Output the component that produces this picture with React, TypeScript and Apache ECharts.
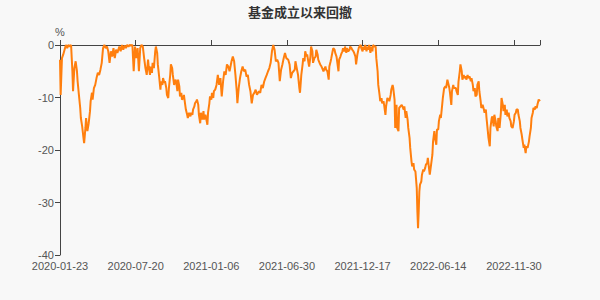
import React, { useEffect, useRef } from "react";
import * as echarts from "echarts";

const title = "基金成立以来回撤";
const tickDates = ["2020-01-23", "2020-07-20", "2021-01-06", "2021-06-30", "2021-12-17", "2022-06-14", "2022-11-30"];
const daysPerLabel = 116;
const lastDay = 736;

// trading-day index since inception
const dayIndex = [
  0, 1, 3, 5, 7, 9, 11, 13, 15, 17, 18, 19, 20, 22, 24, 26, 27, 29, 31, 32, 34, 36, 37, 39, 40, 42, 44, 46, 47, 49,
  50, 52, 54, 56, 58, 60, 62, 64, 66, 68, 70, 72, 74, 76, 78, 80, 82, 84, 86, 88, 91, 93, 95, 97, 99, 101, 103, 105, 107, 109,
  111, 113, 115, 117, 119, 121, 123, 125, 127, 129, 131, 133, 135, 136, 138, 139, 141, 142, 144, 146, 147, 149, 150, 152, 154, 155, 157, 158, 160, 161,
  163, 164, 166, 167, 169, 170, 172, 173, 175, 177, 178, 180, 181, 183, 184, 186, 187, 189, 190, 192, 193, 195, 196, 198, 200, 201, 203, 204, 206, 207,
  209, 210, 212, 213, 215, 216, 218, 220, 221, 223, 224, 226, 227, 229, 230, 232, 233, 235, 236, 238, 240, 242, 244, 246, 248, 250, 252, 254, 256, 258,
  260, 263, 265, 267, 269, 271, 272, 274, 276, 278, 280, 282, 284, 286, 288, 290, 292, 294, 296, 298, 300, 302, 305, 307, 309, 311, 313, 315, 317, 319,
  321, 323, 325, 327, 329, 331, 333, 335, 337, 339, 341, 343, 345, 347, 350, 352, 354, 356, 358, 360, 361, 363, 365, 367, 368, 370, 372, 373, 375, 376,
  378, 379, 381, 382, 384, 385, 387, 388, 390, 392, 393, 395, 396, 398, 399, 401, 402, 404, 405, 407, 408, 410, 412, 413, 415, 416, 418, 419, 421, 422,
  424, 425, 427, 428, 430, 431, 433, 434, 436, 437, 439, 440, 442, 444, 445, 447, 448, 450, 451, 453, 454, 456, 458, 459, 461, 462, 464, 465, 467, 468,
  470, 471, 473, 474, 476, 477, 479, 480, 482, 484, 485, 487, 488, 490, 491, 493, 494, 496, 497, 499, 500, 502, 504, 505, 507, 508, 510, 511, 513, 514,
  516, 517, 519, 520, 522, 524, 525, 527, 528, 530, 531, 533, 534, 536, 537, 539, 540, 542, 543, 545, 547, 548, 549, 550, 551, 552, 554, 555, 557, 558,
  560, 561, 563, 564, 566, 567, 569, 571, 572, 574, 575, 577, 578, 580, 581, 583, 584, 586, 587, 589, 591, 592, 594, 595, 597, 598, 600, 601, 603, 604,
  607, 608, 610, 611, 613, 614, 616, 617, 619, 620, 622, 623, 625, 626, 628, 630, 631, 633, 634, 636, 637, 639, 640, 642, 643, 645, 646, 648, 650, 651,
  653, 654, 656, 657, 659, 660, 662, 663, 665, 666, 668, 669, 671, 672, 674, 676, 677, 679, 680, 682, 683, 685, 686, 688, 689, 691, 692, 694, 696, 697,
  699, 700, 702, 703, 705, 706, 708, 709, 711, 712, 714, 715, 717, 719, 720, 722, 723, 725, 726, 728, 729, 731, 732, 734, 736,
];

// drawdown since inception, %
const drawdown = [
  -2.8, -9.5, -2.5, -1.8, -0.9, 0, -0.6, 0, -0.3, 0, -2.5, -5.0, -8.8, -4.4, -3.1, -5.0, -6.9, -9.5, -12.0, -13.9, -15.5, -17.7, -18.7, -15.8, -13.9, -16.4, -14.9, -12.6, -10.7, -9.1,
  -10.4, -8.2, -7.6, -6.3, -5.3, -5.7, -4.7, -3.4, -0.6, 0, -0.6, -0.3, -1.2, -3.4, -1.2, -2.2, -0.6, -2.5, -0.9, -1.5, -0.3, -1.2, 0, -0.9, -0.1, -0.6, 0, -0.3, 0, -0.1,
  0, -5.0, -0.3, -2.5, -0.6, -5.0, -0.6, 0, -0.3, -2.5, -4.4, -5.7, -2.8, -4.1, -5.7, -4.1, -5.3, -3.4, -4.4, -1.2, -0.3, -1.5, -3.7, -6.0, -8.5, -6.9, -7.6, -6.3, -7.2, -6.9,
  -8.2, -9.5, -10.1, -8.2, -5.7, -3.7, -4.4, -5.7, -7.6, -6.6, -6.9, -8.8, -6.6, -7.9, -9.8, -9.1, -10.4, -10.1, -9.5, -11.4, -12.3, -13.3, -13.9, -12.9, -13.6, -12.9, -13.3, -12.3, -11.7, -11.1,
  -10.7, -10.4, -11.4, -13.3, -14.9, -12.9, -14.2, -12.6, -14.2, -13.3, -13.9, -15.2, -12.9, -11.1, -9.8, -10.4, -9.1, -10.1, -8.8, -8.5, -7.6, -5.7, -7.6, -6.3, -9.8, -7.0, -5.0, -5.7, -3.7, -4.1,
  -5.0, -3.1, -2.2, -3.1, -5.7, -8.8, -11.1, -8.2, -6.3, -5.0, -4.1, -5.0, -4.7, -6.0, -5.7, -7.6, -8.8, -11.1, -9.5, -9.1, -8.5, -9.5, -8.8, -9.1, -7.6, -8.2, -7.0, -6.3, -5.7, -5.0,
  -4.4, -3.4, -1.2, 0, -0.9, -3.1, -2.8, -3.4, -6.9, -4.7, -3.7, -2.5, -1.5, -2.5, -2.8, -3.7, -6.3, -5.3, -5.0, -4.7, -3.1, -4.4, -5.7, -8.2, -9.1, -5.7, -3.7, -2.5, -3.1, -1.2,
  -2.2, -1.8, -3.4, -4.1, -2.2, -0.3, -1.2, -3.4, -2.5, -2.2, -0.9, -1.8, -2.8, -3.4, -3.7, -4.1, -4.4, -5.0, -4.7, -4.1, -4.7, -5.0, -6.6, -4.1, -3.1, -2.5, -1.2, -0.6, -0.9, -1.5,
  -2.2, -3.1, -5.0, -2.8, -2.2, -1.8, -1.2, -0.6, -1.2, -0.3, -1.5, -0.6, -1.2, -0.9, -0.3, -0.6, -0.9, -1.2, -1.5, -2.2, -3.7, -1.8, -0.6, -0.3, 0, -0.6, -1.2, -0.3, -0.9, 0,
  -1.2, -0.3, -0.9, 0, -1.5, -0.3, -1.2, 0, -0.3, -0.3, -2.5, -5.0, -7.6, -9.5, -10.7, -10.1, -11.1, -10.7, -11.4, -13.3, -11.7, -10.1, -10.4, -10.7, -9.5, -8.5, -7.6, -8.2, -10.4, -15.8,
  -11.4, -15.8, -16.4, -12.0, -11.7, -11.4, -11.7, -12.3, -11.7, -13.9, -12.6, -14.2, -15.8, -17.7, -19.6, -22.2, -23.1, -22.5, -23.7, -24.1, -27.2, -31.7, -34.9, -31.7, -27.9, -26.6, -26.0, -24.7, -23.7, -24.1,
  -23.4, -22.8, -22.5, -21.5, -23.7, -24.7, -22.8, -20.9, -18.4, -16.4, -17.7, -19.0, -16.1, -16.1, -14.5, -13.3, -13.9, -11.4, -10.1, -8.2, -7.9, -8.2, -6.6, -6.6, -8.2, -9.1, -11.4, -8.8, -7.6, -8.2,
  -8.2, -8.8, -9.5, -7.0, -5.0, -3.7, -5.0, -6.6, -5.7, -6.3, -6.0, -6.6, -5.7, -6.3, -6.0, -6.9, -6.3, -7.6, -8.8, -8.2, -9.8, -9.5, -7.6, -6.9, -8.8, -10.7, -12.0, -11.4, -12.3, -12.9,
  -12.3, -13.9, -16.4, -17.7, -19.3, -15.8, -13.9, -13.6, -15.5, -13.3, -14.5, -15.5, -16.4, -13.9, -15.8, -12.9, -10.1, -11.4, -12.6, -11.4, -13.3, -12.3, -13.6, -12.9, -13.9, -14.5, -15.5, -15.8, -14.5, -13.3,
  -12.9, -12.3, -12.3, -13.3, -14.5, -15.8, -17.1, -18.0, -19.6, -19.0, -20.6, -19.3, -19.6, -18.4, -17.4, -15.8, -13.9, -12.9, -12.0, -12.3, -11.7, -12.0, -11.4, -10.4, -10.7,
];

export default function App() {
  const ref = useRef<HTMLDivElement>(null);
  useEffect(() => {
    if (!ref.current) return;
    const chart = echarts.init(ref.current, undefined, { renderer: "svg" });
    const data = dayIndex.map((d, i) => [d, drawdown[i]]);
    const axisColor = "#444";
    const labelFormatter = (v: number) => {
      const k = v / daysPerLabel;
      return Number.isInteger(k) && k < tickDates.length ? tickDates[k] : "";
    };
    chart.setOption({
      animation: false,
      backgroundColor: "#f8f8f8",
      title: {
        text: title,
        left: "center",
        top: 0,
        textStyle: { fontSize: 13, fontWeight: "bold", color: "#333", fontFamily: "Noto Sans CJK SC" },
      },
      grid: { left: 60, right: 60, top: 45, bottom: 45 },
      xAxis: [
        {
          type: "value",
          position: "bottom",
          min: 0,
          max: lastDay,
          interval: daysPerLabel,
          axisLine: { show: false, onZero: false },
          axisTick: { show: false },
          splitLine: { show: false },
          axisLabel: {
            color: "#555",
            fontSize: 11,
            lineHeight: 11,
            margin: 5,
            showMaxLabel: false,
            formatter: labelFormatter,
            fontFamily: "sans-serif",
          },
        },
        {
          type: "value",
          position: "top",
          min: 0,
          max: lastDay,
          interval: daysPerLabel,
          axisLine: { show: true, onZero: false, lineStyle: { color: axisColor, width: 1 } },
          axisTick: { show: true, length: 5, lineStyle: { color: axisColor } },
          splitLine: { show: false },
          axisLabel: { show: false },
        },
      ],
      yAxis: {
        type: "value",
        min: -40,
        max: 0,
        interval: 10,
        name: "%",
        nameGap: 8,
        nameTextStyle: { color: "#555", fontSize: 11, fontFamily: "sans-serif" },
        axisLine: { show: true, onZero: false, lineStyle: { color: axisColor, width: 1 } },
        axisTick: { show: true, length: 5, lineStyle: { color: axisColor } },
        splitLine: { show: false },
        axisLabel: { color: "#555", fontSize: 11, lineHeight: 10, margin: 6, fontFamily: "sans-serif" },
      },
      series: [
        {
          type: "line",
          xAxisIndex: 0,
          data,
          showSymbol: false,
          symbol: "none",
          lineStyle: { color: "#ff7f0e", width: 2 },
          itemStyle: { color: "#ff7f0e" },
        },
      ],
    });
    return () => chart.dispose();
  }, []);
  return <div ref={ref} style={{ position: "fixed", left: 0, top: 0, width: 600, height: 300 }} />;
}
